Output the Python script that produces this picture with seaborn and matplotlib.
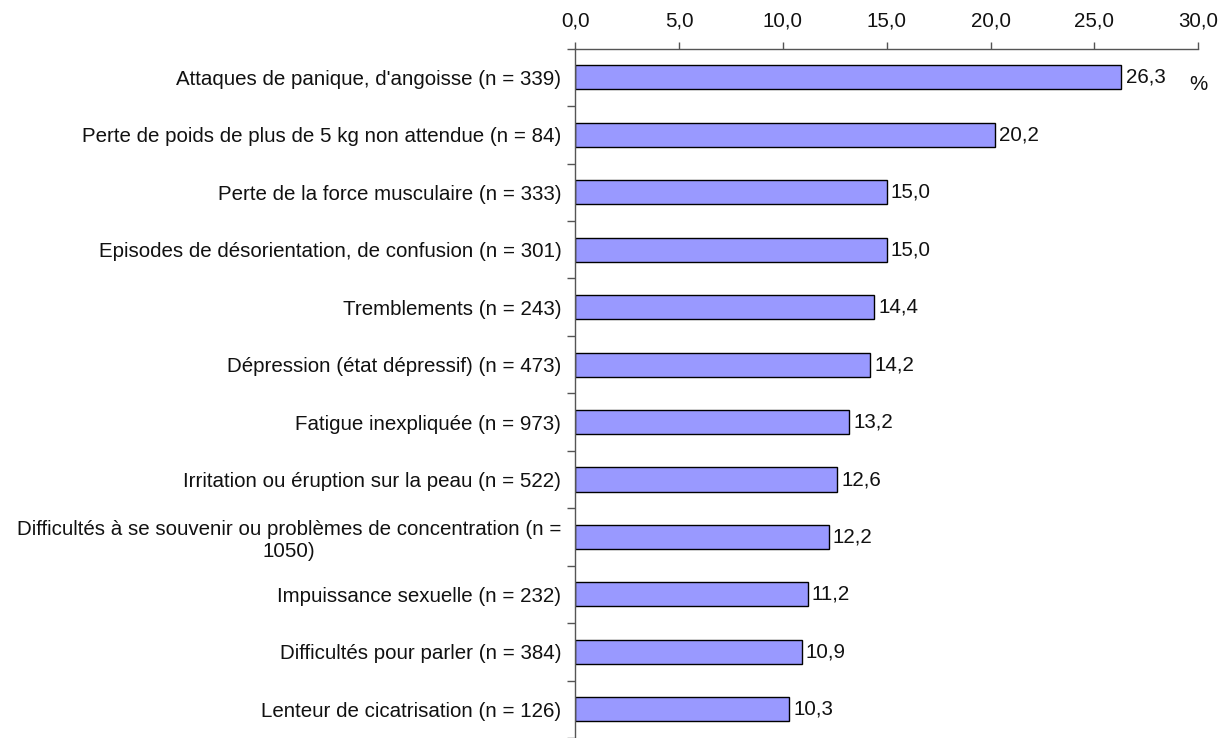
import numpy as np
import pandas as pd
import matplotlib
matplotlib.use("Agg")
import matplotlib.pyplot as plt
import seaborn as sns
from matplotlib.ticker import FuncFormatter, MultipleLocator, FixedLocator

# Data
labels = [
    "Attaques de panique, d'angoisse (n = 339)",
    "Perte de poids de plus de 5 kg non attendue (n = 84)",
    "Perte de la force musculaire (n = 333)",
    "Episodes de désorientation, de confusion (n = 301)",
    "Tremblements (n = 243)",
    "Dépression (état dépressif) (n = 473)",
    "Fatigue inexpliquée (n = 973)",
    "Irritation ou éruption sur la peau (n = 522)",
    "Difficultés à se souvenir ou problèmes de concentration (n =\n1050)",
    "Impuissance sexuelle (n = 232)",
    "Difficultés pour parler (n = 384)",
    "Lenteur de cicatrisation (n = 126)",
]
values = [26.3, 20.2, 15.0, 15.0, 14.4, 14.2, 13.2, 12.6, 12.2, 11.2, 10.9, 10.3]

df = pd.DataFrame({"label": labels, "pct": values})

sns.set_style("white")
plt.rcParams["font.family"] = ["Liberation Sans", "DejaVu Sans"]
fs = 14.8

fig = plt.figure(figsize=(12.29, 7.38), dpi=100)
ax = fig.add_axes([0.468, 0.0, 0.507, 0.934])

sns.barplot(data=df, x="pct", y="label", orient="h", color="#9999FF",
            edgecolor="black", linewidth=1, width=0.42, saturation=1, ax=ax)

ax.set_xlim(0, 30)
ax.set_ylim(11.5, -0.5)
ax.xaxis.set_major_locator(MultipleLocator(5))
ax.xaxis.set_major_formatter(FuncFormatter(lambda v, p: f"{v:.1f}".replace(".", ",")))
ax.xaxis.tick_top()
ax.tick_params(axis="x", which="major", direction="out", length=5, width=1,
               color="#555555", labelsize=fs, labelcolor="#111111", pad=8,
               top=True, bottom=False)

# y ticks at category boundaries
ax.yaxis.set_minor_locator(FixedLocator(np.arange(-0.5, 12, 1.0)))
ax.tick_params(axis="y", which="major", length=0, labelsize=fs,
               labelcolor="#111111", pad=10)
ax.tick_params(axis="y", which="minor", direction="out", length=6, width=1,
               color="#555555", left=True)
for t in ax.get_yticklabels():
    t.set_multialignment("center")

for s in ["right", "bottom"]:
    ax.spines[s].set_visible(False)
for s in ["left", "top"]:
    ax.spines[s].set_color("#555555")
    ax.spines[s].set_linewidth(1)

ax.set_xlabel("")
ax.set_ylabel("")

ax.bar_label(ax.containers[0], labels=[f"{v:.1f}".replace(".", ",") for v in values],
             padding=3, fontsize=fs, color="#111111")

fig.text(0.975, 0.885, "%", fontsize=fs, ha="center", va="center", color="#111111")

fig.savefig("out.png", dpi=100)
